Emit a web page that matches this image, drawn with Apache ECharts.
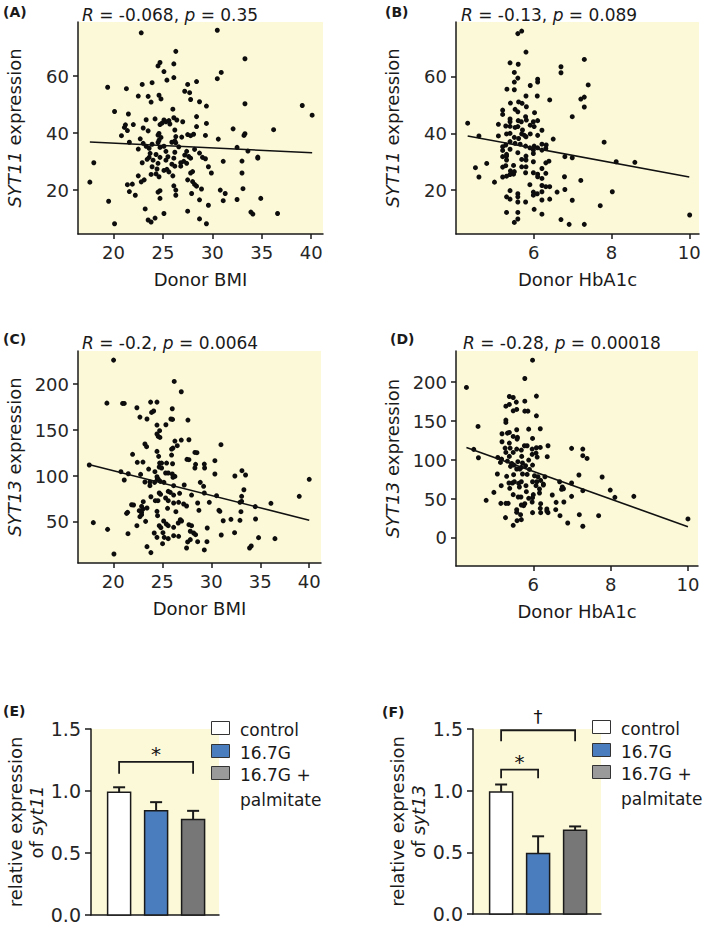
<!DOCTYPE html>
<html>
<head>
<meta charset="utf-8">
<script src="https://cdn.jsdelivr.net/npm/echarts@6/dist/echarts.min.js"></script>
<style>
  body { margin: 0; background: #fff; }
  #chart { width: 709px; height: 926px; }
</style>
</head>
<body>
<div id="chart"></div>
<script>
// ---- data ----
// (A) SYT11 vs donor BMI
var syt11Bmi = [[22.8,75.2],[30.5,76.1],[26.3,68.7],[33.3,66.1],[24.7,64.8],[24.5,63.6],[26.1,64.3],[25.1,61.6],[30.9,61.3],[30.5,59.1],[26.1,59.5],[25.4,58.6],[22.9,57.1],[23.9,57.7],[28.4,58.1],[27.5,57.1],[19.4,56.1],[21.3,55.6],[27.2,54.7],[27.7,54.2],[22.5,53.0],[23.5,52.9],[24.6,53.3],[24.8,52.0],[27.8,51.8],[28.7,51.0],[23.8,50.9],[29.4,49.5],[33.3,50.3],[39.1,49.7],[20.1,47.6],[21.5,46.7],[26.0,48.4],[40.1,46.3],[28.4,45.8],[23.3,44.7],[24.2,45.0],[25.1,44.6],[25.3,44.0],[25.6,44.4],[25.7,43.2],[26.1,45.4],[26.4,44.6],[27.0,44.0],[22.0,43.0],[21.2,42.9],[21.1,42.0],[23.0,41.8],[23.5,40.8],[21.4,40.9],[24.7,43.0],[24.9,43.5],[29.4,43.4],[28.4,42.3],[26.2,41.1],[32.1,41.5],[36.2,41.2],[20.8,39.1],[22.7,38.0],[24.6,39.9],[24.5,39.3],[24.8,38.5],[26.3,38.8],[26.9,38.6],[27.5,39.5],[27.8,39.1],[28.1,39.6],[29.3,39.2],[30.6,37.9],[33.3,39.8],[33.2,39.2],[21.6,36.8],[23.0,36.4],[23.3,35.4],[23.9,36.1],[24.5,36.7],[24.6,37.5],[25.9,36.8],[26.2,37.3],[26.3,36.6],[22.5,34.4],[23.6,34.7],[24.7,35.0],[25.1,35.4],[26.6,35.2],[28.2,34.3],[27.4,33.6],[32.5,35.0],[33.6,33.7],[26.2,33.3],[23.7,32.9],[24.3,32.5],[25.3,33.6],[23.6,31.5],[24.7,31.5],[25.5,31.7],[26.1,31.2],[27.2,32.3],[27.6,31.8],[27.8,31.2],[28.7,33.0],[29.0,31.5],[22.9,29.6],[23.4,30.8],[24.0,30.5],[24.5,29.4],[25.3,30.5],[25.9,29.1],[26.8,29.6],[27.1,30.1],[27.4,29.4],[29.3,31.0],[31.1,30.1],[33.0,30.2],[34.6,31.6],[34.6,31.2],[18.0,29.6],[23.9,28.2],[24.4,27.4],[25.1,26.9],[25.4,27.3],[25.6,26.4],[26.2,28.4],[26.8,28.4],[29.6,28.2],[24.3,25.7],[23.8,25.5],[26.0,25.0],[27.8,26.0],[28.0,26.5],[29.9,26.0],[33.0,26.0],[22.5,25.0],[23.1,23.6],[22.8,22.9],[24.6,24.7],[27.5,23.6],[28.0,23.0],[28.2,22.0],[28.4,21.4],[17.6,22.8],[21.4,21.9],[21.9,22.1],[26.1,21.5],[33.1,20.5],[21.6,19.5],[22.2,18.2],[24.5,19.3],[24.7,19.8],[26.3,20.0],[26.3,18.2],[27.9,18.8],[28.9,20.4],[30.8,20.0],[31.3,18.8],[24.7,17.1],[28.7,16.6],[31.1,16.3],[32.5,16.7],[34.9,17.1],[19.5,16.1],[29.6,14.7],[23.2,13.4],[27.5,12.6],[25.1,11.8],[33.9,12.3],[34.1,11.6],[36.6,11.8],[23.5,9.5],[23.8,8.8],[24.2,10.2],[28.7,9.9],[20.1,8.2],[29.4,8.2]];
var fitA = [[17.6,36.9],[40.1,33.1]];

// (B) SYT11 vs donor HbA1c
var syt11Hba1c = [[5.59,75.2],[5.69,76.1],[5.80,68.7],[5.39,64.9],[5.60,64.4],[5.50,61.5],[5.59,59.5],[5.50,58.1],[6.70,63.5],[6.70,61.4],[7.30,66.1],[6.10,59.1],[6.10,58.1],[5.91,56.9],[7.40,57.1],[5.31,55.6],[5.50,55.4],[5.80,53.2],[6.09,53.2],[5.40,50.7],[5.61,51.1],[5.70,50.6],[5.81,49.4],[7.21,52.1],[7.30,52.8],[7.30,49.3],[6.41,51.8],[5.20,48.2],[5.20,46.7],[5.52,48.5],[6.02,47.3],[5.59,47.6],[6.99,45.9],[4.30,43.6],[5.39,45.1],[5.39,44.1],[5.60,44.5],[5.68,44.1],[5.79,45.9],[5.81,44.7],[5.99,44.1],[6.10,44.5],[5.09,43.2],[5.28,42.6],[5.39,42.5],[5.52,42.1],[5.59,42.4],[5.71,41.2],[5.91,42.9],[6.01,42.4],[6.21,41.1],[5.69,39.8],[5.76,39.3],[5.80,38.8],[5.91,39.8],[6.10,39.3],[5.09,39.1],[5.30,39.8],[5.39,40.0],[5.50,38.6],[5.61,38.2],[4.59,39.1],[6.50,38.0],[7.81,36.9],[5.39,37.1],[5.28,35.9],[5.52,36.5],[5.65,36.2],[6.01,35.5],[6.10,34.9],[6.21,36.2],[6.32,35.9],[6.31,34.7],[5.20,35.3],[5.20,34.0],[5.39,34.4],[5.79,35.5],[5.90,34.9],[5.99,34.1],[6.21,34.1],[5.30,32.6],[5.20,31.8],[5.30,32.0],[5.59,33.2],[5.80,32.0],[5.99,32.9],[6.80,31.8],[6.99,31.4],[8.12,30.0],[8.60,29.8],[4.79,29.4],[5.30,30.6],[5.69,30.8],[5.80,30.6],[5.99,30.0],[6.31,29.6],[6.39,30.2],[4.50,27.9],[5.20,28.1],[5.28,28.6],[5.48,28.7],[5.69,28.2],[5.80,28.2],[6.21,27.6],[5.40,26.8],[5.50,26.5],[5.39,25.5],[5.48,25.6],[5.79,26.1],[5.99,26.1],[6.10,25.6],[6.31,25.9],[5.20,24.6],[5.30,24.9],[4.59,24.6],[6.79,24.7],[4.99,22.8],[5.90,21.9],[6.10,24.7],[6.21,24.1],[7.21,23.4],[6.21,21.6],[6.31,21.2],[6.41,21.2],[5.39,19.8],[5.99,19.3],[6.09,18.7],[6.21,19.4],[6.60,19.3],[6.80,20.2],[8.02,19.4],[5.30,17.6],[5.39,16.8],[5.59,18.7],[5.59,17.6],[5.59,15.8],[5.79,15.8],[5.99,18.2],[6.21,16.5],[6.41,16.8],[6.99,16.4],[7.71,14.5],[6.01,13.2],[5.30,12.1],[5.59,12.1],[5.59,9.8],[5.50,8.6],[6.21,11.5],[6.70,9.6],[6.91,7.9],[7.30,7.9],[10.01,11.2]];
var fitB = [[4.3,39.1],[10.0,24.6]];

// (C) SYT13 vs donor BMI
var syt13Bmi = [[20.03,226.1],[26.22,202.9],[26.94,191.7],[19.35,179.3],[20.95,179.0],[21.12,179.0],[23.81,180.4],[24.46,180.4],[22.41,174.3],[26.02,173.2],[23.91,169.2],[24.12,170.7],[22.72,164.1],[23.44,162.0],[25.88,162.0],[26.05,161.6],[27.62,160.9],[24.46,155.4],[25.37,155.8],[24.73,149.3],[24.46,145.7],[24.59,143.1],[24.76,142.0],[26.29,138.0],[26.94,139.1],[27.72,139.5],[26.09,130.4],[26.53,133.0],[30.99,134.1],[23.23,134.8],[23.40,131.9],[21.97,123.6],[22.45,114.9],[23.03,115.2],[24.46,126.8],[25.95,129.3],[25.95,122.8],[24.63,121.4],[28.33,125.7],[28.54,125.4],[27.52,118.1],[27.72,117.8],[24.73,114.1],[24.93,114.1],[25.44,114.1],[26.05,113.4],[24.69,109.8],[24.93,108.7],[23.61,107.6],[28.40,112.7],[28.33,108.7],[29.29,113.0],[30.37,116.7],[29.32,108.7],[17.55,112.0],[20.78,104.7],[21.53,102.5],[22.79,101.8],[24.25,104.7],[25.34,103.3],[25.61,103.3],[26.02,102.2],[21.12,95.7],[23.23,93.5],[23.74,93.5],[24.46,99.3],[24.59,96.7],[24.80,94.2],[25.17,93.1],[26.09,98.6],[26.29,99.6],[32.41,100.0],[33.13,105.8],[33.50,101.1],[30.37,102.2],[28.88,93.1],[23.74,89.5],[24.49,96.7],[27.24,90.2],[29.22,88.8],[26.16,89.5],[24.22,93.1],[40.00,96.4],[24.69,81.5],[24.83,80.1],[25.61,83.3],[25.82,82.2],[26.16,79.3],[26.77,81.2],[27.99,79.3],[29.29,81.5],[30.54,78.6],[33.10,77.9],[33.33,85.1],[38.98,77.9],[23.84,77.5],[24.29,73.2],[24.56,73.2],[25.34,76.1],[25.61,73.2],[26.16,70.7],[26.67,71.4],[27.18,69.6],[27.48,67.4],[28.61,70.7],[29.80,71.4],[32.93,71.4],[33.10,72.5],[36.09,70.3],[21.87,68.8],[22.07,68.5],[23.06,72.1],[22.89,67.0],[23.03,64.1],[23.44,65.2],[22.65,62.3],[22.89,60.5],[22.89,58.0],[21.36,59.4],[21.46,60.5],[24.46,61.6],[25.54,64.9],[26.39,61.2],[28.74,62.7],[30.78,62.7],[30.88,61.6],[33.03,61.2],[34.49,66.7],[17.96,49.3],[19.42,42.0],[21.50,37.3],[22.41,46.0],[23.30,50.7],[22.72,55.8],[24.52,56.9],[25.14,51.1],[25.41,47.8],[24.69,46.0],[24.86,43.8],[25.61,46.0],[26.16,44.2],[26.63,48.9],[26.97,51.1],[27.72,47.1],[27.99,46.0],[27.86,39.9],[28.20,38.0],[28.40,36.2],[26.84,52.5],[29.59,43.5],[31.22,51.4],[32.01,52.9],[32.93,51.8],[34.52,53.3],[24.18,38.0],[25.07,38.4],[24.46,33.3],[25.20,33.3],[26.16,35.1],[25.61,31.9],[26.67,34.4],[31.02,35.9],[32.38,38.4],[34.83,33.0],[36.50,31.9],[25.03,26.4],[27.59,28.3],[27.86,30.8],[28.61,28.6],[29.56,28.6],[23.44,23.2],[23.84,16.7],[27.48,21.7],[29.29,19.6],[33.91,21.7],[34.08,23.9],[20.07,15.2]];
var fitC = [[17.5,112.5],[40.0,52.0]];

// (D) SYT13 vs donor HbA1c
var syt13Hba1c = [[5.98,228.2],[5.78,204.7],[4.27,193.2],[5.38,181.6],[5.48,180.3],[5.56,174.4],[5.78,175.6],[6.08,182.1],[5.29,169.2],[5.38,171.4],[5.57,165.0],[5.48,163.2],[5.78,162.8],[5.86,162.8],[6.08,156.8],[5.29,151.3],[5.29,148.3],[4.57,143.2],[5.19,133.8],[5.33,134.6],[5.38,135.5],[5.57,138.9],[5.88,139.7],[6.18,140.2],[5.48,130.3],[5.59,129.1],[5.58,126.9],[5.98,127.8],[5.19,123.5],[5.38,121.8],[5.77,118.4],[5.84,118.4],[6.38,118.4],[6.99,115.0],[7.28,114.1],[4.46,113.7],[5.27,115.4],[5.40,115.4],[5.57,114.1],[5.69,112.8],[5.97,114.1],[6.08,115.8],[6.18,116.2],[5.29,109.8],[5.48,109.8],[5.38,104.7],[5.70,104.7],[5.97,107.3],[6.07,109.0],[6.10,103.8],[6.36,104.3],[5.08,103.4],[5.18,101.3],[4.58,103.0],[5.15,97.0],[5.33,98.7],[5.44,95.7],[5.60,97.9],[5.72,96.2],[5.88,100.0],[5.98,93.6],[7.28,105.6],[7.39,102.1],[5.41,91.9],[5.50,93.6],[5.69,90.6],[5.80,92.7],[5.57,88.5],[5.65,88.5],[5.90,88.0],[5.07,82.1],[5.31,79.1],[5.49,81.2],[5.72,82.1],[5.84,81.6],[6.03,79.9],[6.12,78.6],[6.30,78.6],[7.18,80.8],[7.78,78.2],[5.17,67.1],[5.37,70.5],[5.46,70.5],[5.51,72.2],[5.62,70.1],[5.69,72.2],[5.98,72.2],[6.09,72.2],[6.19,73.9],[6.26,69.2],[6.68,72.2],[6.99,70.5],[5.39,63.7],[5.64,65.4],[5.81,67.1],[6.07,67.1],[6.16,62.8],[6.26,67.9],[6.73,62.4],[6.75,65.4],[7.28,60.7],[7.99,61.5],[4.98,58.5],[5.48,55.6],[5.82,59.4],[6.00,55.6],[6.16,57.7],[6.49,55.1],[6.78,63.2],[6.99,53.4],[8.11,52.1],[8.60,53.4],[4.78,48.3],[5.61,52.6],[5.68,52.6],[5.88,50.9],[5.98,51.7],[5.16,44.4],[5.29,44.4],[5.35,44.4],[5.69,42.3],[5.78,44.0],[5.97,46.2],[6.19,44.0],[6.59,45.7],[6.79,46.2],[5.57,36.3],[5.75,41.5],[6.18,38.0],[6.35,37.2],[6.38,32.5],[5.57,32.9],[5.98,32.5],[6.19,32.5],[6.35,34.6],[6.58,36.3],[6.69,28.6],[5.28,26.1],[5.67,29.9],[7.19,29.9],[7.69,28.6],[5.58,22.2],[5.69,23.5],[6.89,19.2],[5.48,16.2],[7.28,15.0],[10.00,24.4]];
var fitD = [[4.27,116.0],[10.0,14.5]];

// tick values
var bmiTicks = [20, 25, 30, 35, 40];
var hba1cTicks = [6, 8, 10];
var syt11Ticks = [20, 40, 60];
var syt13TicksC = [50, 100, 150, 200];
var syt13TicksD = [0, 50, 100, 150, 200];

// (E)/(F) bar charts
var groups = ['control', '16.7G', '16.7G +\npalmitate'];
var syt11Mean = [0.99, 0.84, 0.77];
var syt11Sem = [0.04, 0.07, 0.07];
var syt13Mean = [0.99, 0.49, 0.68];
var syt13Sem = [0.06, 0.14, 0.03];
var bracketsE = [{ from: 1, to: 3, y: 1.235, tip: 1.14, mark: '*' }];
var bracketsF = [
  { from: 1, to: 3, y: 1.49, tip: 1.40, mark: '\u2020' },
  { from: 1, to: 2, y: 1.17, tip: 1.10, mark: '*' }
];

// ---- styles ----
var FONT = 'DejaVu Sans';
var INK = '#1a1a1a';
var LABEL = '#262626';
var PANEL_BG = '#fcf9d8';
var barColors = ['#ffffff', '#4a7dbd', '#777777'];
var legendColors = ['#ffffff', '#4a7dbd', '#9a9a9a'];

var chart = echarts.init(document.getElementById('chart'), null, { renderer: 'svg' });

function xAxisFor(grid, min, max, ticks, name) {
  return {
    type: 'value', gridIndex: grid, min: min, max: max,
    name: name, nameLocation: 'middle', nameGap: 36,
    nameTextStyle: { fontFamily: FONT, fontSize: 18, color: INK },
    axisLine: { onZero: false, lineStyle: { color: INK, width: 1.5 } },
    axisTick: { length: 5, customValues: ticks, lineStyle: { color: INK, width: 1.5 } },
    axisLabel: { customValues: ticks, fontFamily: FONT, fontSize: 18, color: LABEL, margin: 9 },
    splitLine: { show: false }
  };
}

function yAxisFor(grid, min, max, ticks, gene) {
  return {
    type: 'value', gridIndex: grid, min: min, max: max,
    name: '{i|' + gene + '} expression', nameLocation: 'middle', nameGap: 55,
    nameTextStyle: {
      fontFamily: FONT, fontSize: 18, color: INK,
      rich: { i: { fontFamily: FONT, fontSize: 18, fontStyle: 'italic', color: INK } }
    },
    axisLine: { onZero: false, lineStyle: { color: INK, width: 1.5 } },
    axisTick: { length: 5, customValues: ticks, lineStyle: { color: INK, width: 1.5 } },
    axisLabel: { customValues: ticks, fontFamily: FONT, fontSize: 18, color: LABEL, margin: 9 },
    splitLine: { show: false }
  };
}

function barXAxis(grid) {
  return {
    type: 'value', gridIndex: grid, min: 0.24, max: 3.7,
    axisLine: { onZero: false, lineStyle: { color: INK, width: 1.5 } },
    axisTick: { show: false }, axisLabel: { show: false }, splitLine: { show: false }
  };
}

function barYAxis(grid, gene) {
  return {
    type: 'value', gridIndex: grid, min: 0, max: 1.5, interval: 0.5,
    name: 'relative expression\n{n|of }{i|' + gene + '}', nameLocation: 'middle', nameGap: 41,
    nameTextStyle: {
      fontFamily: FONT, fontSize: 18, color: INK, lineHeight: 21,
      rich: {
        n: { fontFamily: FONT, fontSize: 18, color: INK, lineHeight: 21 },
        i: { fontFamily: FONT, fontSize: 18, fontStyle: 'italic', color: INK, lineHeight: 21 }
      }
    },
    axisLine: { lineStyle: { color: INK, width: 1.5 } },
    axisTick: { length: 6, lineStyle: { color: INK, width: 1.5 } },
    axisLabel: {
      fontFamily: FONT, fontSize: 19, color: LABEL, margin: 10,
      formatter: function (v) { return v.toFixed(1); }
    },
    splitLine: { show: false }
  };
}

function scatter(data, i) {
  return {
    type: 'scatter', xAxisIndex: i, yAxisIndex: i, data: data,
    symbolSize: 5, itemStyle: { color: '#0d0d0d', opacity: 1 }, silent: true
  };
}

function fitLine(data, i) {
  return {
    type: 'line', xAxisIndex: i, yAxisIndex: i, data: data,
    showSymbol: false, silent: true,
    lineStyle: { color: '#111', width: 1.6 }
  };
}

function bars(means, sems, i) {
  return {
    type: 'custom', xAxisIndex: i, yAxisIndex: i, silent: true,
    itemStyle: { color: INK },
    data: means.map(function (m, k) { return [k + 1, m, m + sems[k]]; }),
    renderItem: function (params, api) {
      var x = api.value(0);
      var base = api.coord([x, 0]);
      var top = api.coord([x, api.value(1)]);
      var err = api.coord([x, api.value(2)]);
      var w = 23, cap = 12;
      return {
        type: 'group', children: [
          { type: 'line', shape: { x1: top[0], y1: top[1], x2: err[0], y2: err[1] }, style: { stroke: INK, lineWidth: 2 } },
          { type: 'line', shape: { x1: err[0] - cap / 2, y1: err[1], x2: err[0] + cap / 2, y2: err[1] }, style: { stroke: INK, lineWidth: 2 } },
          { type: 'rect', shape: { x: base[0] - w / 2, y: top[1], width: w, height: base[1] - top[1] },
            style: { fill: barColors[params.dataIndex], stroke: INK, lineWidth: 1.5 } }
        ]
      };
    }
  };
}

function brackets(list, i) {
  return {
    type: 'custom', xAxisIndex: i, yAxisIndex: i, silent: true,
    itemStyle: { color: INK },
    data: list.map(function (b) { return [b.from, b.to, b.y, b.tip]; }),
    renderItem: function (params, api) {
      var a = api.coord([api.value(0), api.value(3)]);
      var b = api.coord([api.value(0), api.value(2)]);
      var c = api.coord([api.value(1), api.value(2)]);
      var d = api.coord([api.value(1), api.value(3)]);
      var mark = list[params.dataIndex].mark;
      return {
        type: 'group', children: [
          { type: 'polyline', shape: { points: [a, b, c, d] }, style: { stroke: INK, lineWidth: 1.8, fill: null } },
          { type: 'text', x: (b[0] + c[0]) / 2, y: b[1] - (mark === '*' ? 8 : 14),
            style: { text: mark, fontFamily: FONT, fontSize: mark === '*' ? 20 : 18, fill: '#111',
                     align: 'center', verticalAlign: 'middle' } }
        ]
      };
    }
  };
}

function statTitle(text, left, top) {
  return {
    text: text, left: left, top: top, padding: 0,
    textStyle: {
      fontFamily: FONT, fontSize: 17, fontWeight: 'normal', color: INK, lineHeight: 20,
      rich: { i: { fontFamily: FONT, fontSize: 17, fontStyle: 'italic', color: INK, lineHeight: 20 } }
    }
  };
}

function panelTag(text, left, top) {
  return {
    text: text, left: left, top: top, padding: 0,
    textStyle: { fontFamily: FONT, fontSize: 14, fontWeight: 'bold', color: INK, lineHeight: 16 }
  };
}

function legendBlock(left, top) {
  var out = [];
  var rowY = [0, 23, 45];
  groups.forEach(function (g, k) {
    out.push({ type: 'rect', left: left, top: top + rowY[k], shape: { width: 18, height: 13 },
               style: { fill: legendColors[k], stroke: '#333', lineWidth: 1 } });
    out.push({ type: 'text', left: left + 29, top: top + rowY[k] - 4,
               style: { text: g, fontFamily: FONT, fontSize: 17, fill: INK, lineHeight: 25 } });
  });
  return out;
}

var option = {
  backgroundColor: '#ffffff',
  animation: false,
  title: [
    panelTag('(A)', 3, 4), statTitle('{i|R} = -0.068, {i|p} = 0.35', 82, 5),
    panelTag('(B)', 385, 4), statTitle('{i|R} = -0.13, {i|p} = 0.089', 461, 5),
    panelTag('(C)', 3, 331), statTitle('{i|R} = -0.2, {i|p} = 0.0064', 82, 333),
    panelTag('(D)', 390, 331), statTitle('{i|R} = -0.28, {i|p} = 0.00018', 463, 333),
    panelTag('(E)', 3, 703),
    panelTag('(F)', 382, 704)
  ],
  grid: [
    { left: 78, top: 22, width: 245, height: 212, show: true, backgroundColor: PANEL_BG, borderWidth: 0 },
    { left: 456, top: 22, width: 243, height: 212, show: true, backgroundColor: PANEL_BG, borderWidth: 0 },
    { left: 78, top: 351, width: 243, height: 212, show: true, backgroundColor: PANEL_BG, borderWidth: 0 },
    { left: 456, top: 351, width: 242, height: 215, show: true, backgroundColor: PANEL_BG, borderWidth: 0 },
    { left: 91, top: 729, width: 128, height: 186, show: true, backgroundColor: PANEL_BG, borderWidth: 0 },
    { left: 473, top: 729, width: 128, height: 185, show: true, backgroundColor: PANEL_BG, borderWidth: 0 }
  ],
  xAxis: [
    xAxisFor(0, 16.4, 41.2, bmiTicks, 'Donor BMI'),
    xAxisFor(1, 4.0, 10.25, hba1cTicks, 'Donor HbA1c'),
    xAxisFor(2, 16.4, 41.2, bmiTicks, 'Donor BMI'),
    xAxisFor(3, 4.0, 10.26, hba1cTicks, 'Donor HbA1c'),
    barXAxis(4),
    barXAxis(5)
  ],
  yAxis: [
    yAxisFor(0, 4.6, 79, syt11Ticks, 'SYT11'),
    yAxisFor(1, 4.5, 79.3, syt11Ticks, 'SYT11'),
    yAxisFor(2, 5.4, 236, syt13TicksC, 'SYT13'),
    yAxisFor(3, -36, 240, syt13TicksD, 'SYT13'),
    barYAxis(4, 'syt11'),
    barYAxis(5, 'syt13')
  ],
  series: [
    scatter(syt11Bmi, 0), fitLine(fitA, 0),
    scatter(syt11Hba1c, 1), fitLine(fitB, 1),
    scatter(syt13Bmi, 2), fitLine(fitC, 2),
    scatter(syt13Hba1c, 3), fitLine(fitD, 3),
    bars(syt11Mean, syt11Sem, 4), brackets(bracketsE, 4),
    bars(syt13Mean, syt13Sem, 5), brackets(bracketsF, 5)
  ],
  graphic: legendBlock(211, 721).concat(legendBlock(592, 720))
};

chart.setOption(option);
</script>
</body>
</html>
